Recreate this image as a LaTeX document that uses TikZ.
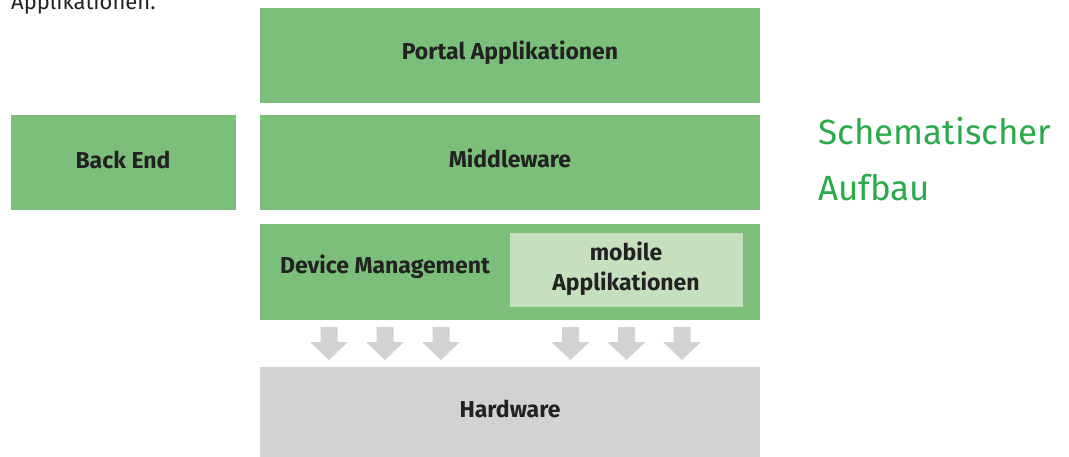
\documentclass[tikz,border=0pt]{standalone}
\usepackage{fontspec}
\setmainfont{Fira Sans}
\definecolor{boxgreen}{HTML}{7BBF7A}
\definecolor{lightgreen}{HTML}{C5DFBF}
\definecolor{boxgray}{HTML}{D1D2D4}
\definecolor{titlegreen}{HTML}{2BAA4A}
\definecolor{textdark}{HTML}{222222}
\begin{document}
\begin{tikzpicture}[x=1pt,y=-1pt,
  layer/.style={fill=boxgreen,draw=none},
  graybox/.style={fill=boxgray,draw=none},
  lbl/.style={text=textdark,inner sep=0pt,font=\fontsize{23}{30}\selectfont\bfseries},
  downarrow/.style={fill=boxgray,draw=none}]
\useasboundingbox (0,0) rectangle (1069,457);
\clip (0,0) rectangle (1069,457);
\node[anchor=base west,font=\fontsize{22}{24}\selectfont,text=textdark,inner sep=0pt] (intro) at (11,10) {Applikationen.};
\path[layer] (260,8) rectangle (760,103);
\node[lbl] (portal) at (510,53) {Portal Applikationen};
\path[layer] (260,115) rectangle (760,210);
\node[lbl] (middle) at (510,158) {Middleware};
\path[layer] (11,115) rectangle (236,210);
\node[lbl] (back) at (123,160) {Back End};
\path[layer] (260,224) rectangle (760,320);
\node[lbl] (device) at (385,267) {Device Management};
\path[fill=lightgreen] (510,233) rectangle (743,307);
\node[lbl,align=center] (mobile) at (626,269) {mobile\\Applikationen};
\path[graybox] (260,367) rectangle (760,457);
\node[lbl] (hw) at (510,409) {Hardware};
\foreach \cx in {329,385,441,570.5,626.5,682}{
  \path[downarrow] (\cx-8.5,327) -- (\cx+8.5,327) -- (\cx+8.5,342) -- (\cx+19,342) -- (\cx,360) -- (\cx-19,342) -- (\cx-8.5,342) -- cycle;
}
\node[anchor=base west,inner sep=0pt,text=titlegreen,font=\fontsize{35}{42}\selectfont] (title1) at (818,145) {Schematischer};
\node[anchor=base west,inner sep=0pt,text=titlegreen,font=\fontsize{35}{42}\selectfont] (title2) at (818,201) {Aufbau};
\end{tikzpicture}
\end{document}
